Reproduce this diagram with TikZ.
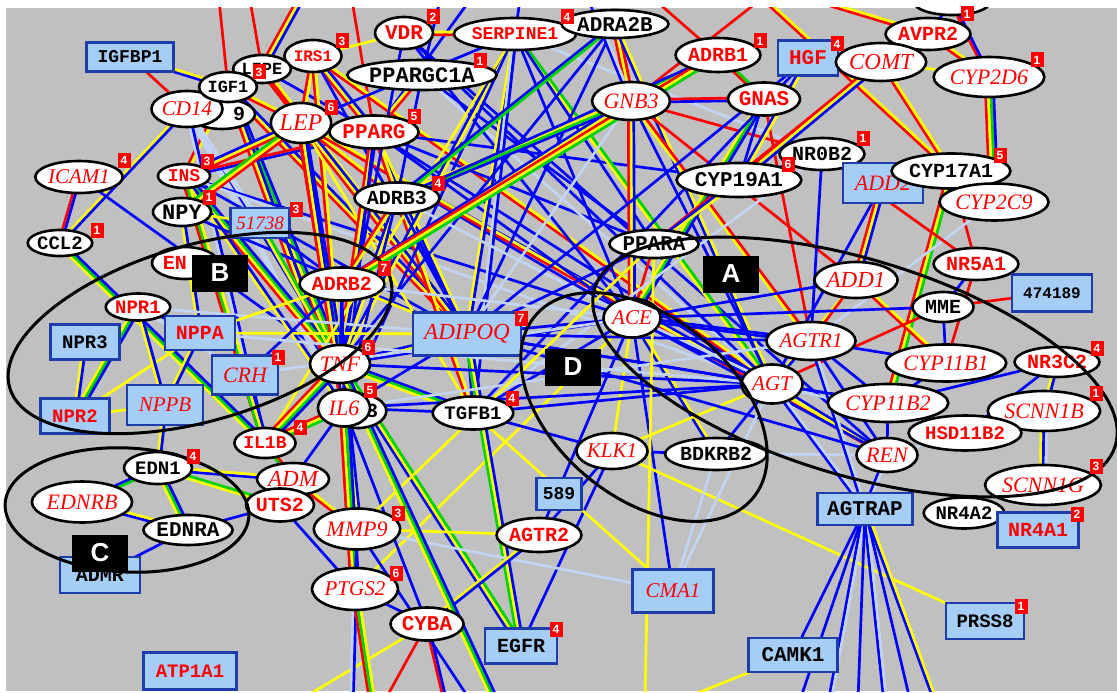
\documentclass[tikz,border=0pt]{standalone}
\usepackage{fontspec}
\usetikzlibrary{shapes.geometric,calc}
\newfontfamily\monof{Liberation Mono}
\newfontfamily\serf{Liberation Serif}
\newfontfamily\sansf{Liberation Sans}
\definecolor{canvas}{RGB}{192,192,192}
\definecolor{eR}{RGB}{255,0,0}
\definecolor{eY}{RGB}{255,255,0}
\definecolor{eG}{RGB}{0,210,0}
\definecolor{eB}{RGB}{0,0,255}
\definecolor{eL}{RGB}{195,212,242}
\definecolor{boxfill}{RGB}{165,205,245}
\definecolor{boxedge}{RGB}{30,60,170}
\definecolor{lblred}{RGB}{255,0,0}
\pgfdeclarelayer{back}
\pgfdeclarelayer{wires}
\pgfsetlayers{back,wires,main}

% parallel coloured strands between two nodes
\newcommand\stripe{2.7}
\newcommand\bund[3]{%
  \gdef\bn{0}%
  \foreach \cc in {#3}{\xdef\bn{\the\numexpr\bn+1\relax}}%
  \foreach \cc [count=\k] in {#3}{%
    \pgfmathsetmacro\off{(\k-(\bn+1)/2)*\stripe}%
    \draw[\cc] ($(#1.center)!\off pt!90:(#2.center)$) -- ($(#2.center)!\off pt!-90:(#1.center)$);
  }%
}
\newcommand\ovn[7]{\node[ov,minimum width=#4pt,minimum height=#5pt,#6] (#1) at (#2,#3) {#7};}
\newcommand\bxn[7]{\node[bx,minimum width=#4pt,minimum height=#5pt,#6] (#1) at (#2,#3) {#7};}
\newcommand\bdg[4]{\node[badge] (#1) at (#2,#3) {#4};}

\tikzset{
  ov/.style={ellipse, draw=black, line width=2.6pt, fill=white, inner sep=0pt},
  bx/.style={rectangle, draw=boxedge, line width=2.4pt, fill=boxfill, inner sep=0pt},
  rm/.style={font=\monof\bfseries\fontsize{#1}{#1}\selectfont},
  rm/.default=20,
  it/.style={font=\serf\itshape\fontsize{#1}{#1}\selectfont},
  it/.default=22,
  rd/.style={text=lblred},
  badge/.style={fill=eR, text=white, font=\sansf\bfseries\fontsize{12}{12}\selectfont,
    minimum width=13pt, minimum height=15pt, inner sep=0pt},
  tag/.style={fill=black, text=white, font=\sansf\bfseries\fontsize{26}{26}\selectfont,
    minimum width=56pt, minimum height=37pt, inner sep=0pt},
  ring/.style={draw=black, line width=3pt},
}

\begin{document}
\begin{tikzpicture}[x=1pt,y=-1pt]
\useasboundingbox (0,0) rectangle (1117,693);
\begin{pgfonlayer}{back}
  \fill[white] (0,0) rectangle (1117,693);
  \fill[canvas] (6,8) rectangle (1117,691);
\end{pgfonlayer}

% node cut by the upper border
\begin{scope}
  \clip (6,8) rectangle (1117,691);
  \ovn{TOPX}{952}{2}{76}{26}{rm=20}{}
\end{scope}

% ---- genes ----
\ovn{VDR}{404}{33}{58}{32}{rm=21,rd}{VDR}
\ovn{SERPINE1}{515}{34}{106}{32}{rm=18,rd}{SERPINE1}
\ovn{ADRA2B}{615}{24}{92}{28}{rm=21}{ADRA2B}
\ovn{AVPR2}{928}{34}{80}{32}{rm=20,rd}{AVPR2}
\ovn{IRS1}{313}{56}{57}{32}{rm=16,rd}{IRS1}
\ovn{PPARGC1A}{422}{75}{119}{30}{rm=22}{PPARGC1A}
\bxn{IGFBP1}{130}{57}{87}{29}{rm=18}{IGFBP1}
\ovn{X9}{222}{114}{66}{30}{rm=20}{\hspace*{34pt}9}
\ovn{CD14}{187}{109}{71}{36}{it=21,rd}{CD14}
\ovn{LIPE}{262}{69}{56}{28}{rm=17}{LIPE}
\ovn{IGF1}{228}{87}{57}{30}{rm=17}{IGF1}
\ovn{ADRB1}{718}{55}{82}{34}{rm=20,rd}{ADRB1}
\bxn{HGF}{808}{58}{60}{35}{rm=21,rd}{HGF}
\ovn{COMT}{881}{62}{82}{38}{it=23,rd}{COMT}
\ovn{CYP2D6}{989}{77}{100}{40}{it=22,rd}{CYP2D6}
\ovn{LEP}{301}{123}{58}{40}{it=24,rd}{LEP}
\ovn{PPARG}{374}{132}{82}{33}{rm=21,rd}{PPARG}
\ovn{GNB3}{631}{101}{77}{38}{it=22,rd}{GNB3}
\ovn{GNAS}{764}{99}{72}{33}{rm=21,rd}{GNAS}
\ovn{NR0B2}{822}{154}{72}{32}{rm=20}{NR0B2}
\ovn{CYP19A1}{739}{180}{102}{34}{rm=21}{CYP19A1}
\bxn{ADD2}{883}{183}{80}{40}{it=22,rd}{ADD2}
\ovn{CYP17A1}{951}{171}{102}{35}{rm=20}{CYP17A1}
\ovn{CYP2C9}{994}{202}{98}{37}{it=22,rd}{CYP2C9}
\ovn{ICAM1}{79}{177}{86}{32}{it=21,rd}{ICAM1}
\ovn{INS}{184}{176}{52}{24}{rm=18,rd}{INS}
\ovn{NPY}{182}{212}{58}{28}{rm=22}{NPY}
\bxn{n51738}{260}{223}{59}{30}{it=19,rd}{51738}
\ovn{ADRB3}{397}{198}{81}{31}{rm=20}{ADRB3}
\ovn{CCL2}{60}{243}{64}{26}{rm=19}{CCL2}
\ovn{EN}{185}{263}{66}{32}{rm=20,rd}{EN\hspace*{20pt}}
\ovn{PPARA}{654}{244}{78}{28}{rm=21}{PPARA}
\ovn{ADD1}{856}{280}{76}{36}{it=23,rd}{ADD1}
\ovn{NR5A1}{976}{264}{78}{32}{rm=20,rd}{NR5A1}
\ovn{MME}{943}{307}{61}{30}{rm=20}{MME}
\bxn{n474189}{1052}{293}{80}{37}{rm=16}{474189}
\ovn{NPR1}{138}{307}{64}{27}{rm=19,rd}{NPR1}
\ovn{ADRB2}{342}{284}{81}{33}{rm=20,rd}{ADRB2}
\bxn{NPPA}{200}{333}{70}{34}{rm=20,rd}{NPPA}
\bxn{NPR3}{85}{342}{69}{35}{rm=19}{NPR3}
\bxn{ADIPOQ}{467}{334}{108}{43}{it=23,rd}{ADIPOQ}
\ovn{ACE}{632}{318}{57}{39}{it=21,rd}{ACE}
\ovn{AGTR1}{811}{341}{86}{38}{it=21,rd}{AGTR1}
\ovn{CYP11B1}{946}{363}{107}{37}{it=22,rd}{CYP11B1}
\ovn{NR3C2}{1057}{362}{80}{30}{rm=20,rd}{NR3C2}
\ovn{TNF}{340}{364}{60}{38}{it=22,rd}{TNF}
\bxn{CRH}{245}{375}{66}{39}{it=22,rd}{CRH}
\ovn{AGT}{772}{384}{61}{39}{it=21,rd}{AGT}
\ovn{CYP11B2}{888}{403}{107}{38}{it=22,rd}{CYP11B2}
\ovn{SCNN1B}{1044}{411}{102}{40}{it=22,rd}{SCNN1B}
\bxn{NPPB}{165}{405}{76}{40}{it=21,rd}{NPPB}
\bxn{NPR2}{75}{416}{69}{35}{rm=19,rd}{NPR2}
\ovn{X3}{358}{411}{54}{34}{rm=20}{\hspace*{28pt}3}
\ovn{IL6}{344}{408}{52}{37}{it=22,rd}{IL6}
\ovn{TGFB1}{473}{413}{80}{33}{rm=19}{TGFB1}
\ovn{HSD11B2}{965}{433}{100}{35}{rm=19,rd}{HSD11B2}
\ovn{IL1B}{265}{443}{55}{30}{rm=18,rd}{IL1B}
\ovn{KLK1}{612}{451}{71}{36}{it=21,rd}{KLK1}
\ovn{BDKRB2}{716}{454}{92}{32}{rm=20}{BDKRB2}
\ovn{REN}{887}{455}{61}{34}{it=22,rd}{REN}
\ovn{EDN1}{158}{468}{68}{32}{rm=19}{EDN1}
\ovn{ADM}{293}{479}{72}{32}{it=23,rd}{ADM}
\ovn{UTS2}{280}{505}{66}{33}{rm=20,rd}{UTS2}
\ovn{SCNN1G}{1043}{485}{107}{40}{it=22,rd}{SCNN1G}
\bxn{n589}{559}{494}{45}{32}{rm=18}{589}
\ovn{EDNRB}{82}{502}{92}{41}{it=22,rd}{EDNRB}
\ovn{EDNRA}{188}{530}{85}{30}{rm=21}{EDNRA}
\bxn{AGTRAP}{865}{509}{95}{32}{rm=21}{AGTRAP}
\ovn{NR4A2}{964}{513}{77}{31}{rm=19}{NR4A2}
\bxn{NR4A1}{1038}{530}{81}{35}{rm=20,rd}{NR4A1}
\ovn{MMP9}{357}{529}{85}{41}{it=22,rd}{MMP9}
\ovn{AGTR2}{539}{535}{82}{34}{rm=20,rd}{AGTR2}
\bxn{ADMR}{100}{575}{80}{36}{rm=20}{ADMR}
\ovn{PTGS2}{355}{589}{86}{42}{it=21,rd}{PTGS2}
\bxn{CMA1}{673}{591}{81}{43}{it=21,rd}{CMA1}
\bxn{PRSS8}{985}{621}{78}{36}{rm=19}{PRSS8}
\ovn{CYBA}{427}{624}{73}{33}{rm=21,rd}{CYBA}
\bxn{EGFR}{521}{646}{72}{35}{rm=20}{EGFR}
\bxn{CAMK1}{793}{655}{89}{34}{rm=21}{CAMK1}
\bxn{ATP1A1}{190}{671}{93}{37}{rm=19,rd}{ATP1A1}

% free ends of links leaving the canvas
\coordinate (t1) at (219,0);  \coordinate (t2) at (300,0);
\coordinate (t3) at (352,0);  \coordinate (t4) at (440,0);
\coordinate (t5) at (590,0);  \coordinate (t6) at (760,0);
\coordinate (t7) at (765,0);  \coordinate (t8) at (815,0);
\coordinate (t9) at (520,0);  \coordinate (t10) at (655,0);
\coordinate (t11) at (250,0); \coordinate (t12) at (470,0);
\coordinate (b1) at (300,700); \coordinate (b2) at (352,700);
\coordinate (b3) at (372,700); \coordinate (b4) at (385,700);
\coordinate (b5) at (445,700); \coordinate (b6) at (495,700);
\coordinate (b7) at (645,700); \coordinate (b8) at (680,700);
\coordinate (b9) at (800,700); \coordinate (b10) at (830,700);
\coordinate (b11) at (858,700); \coordinate (b12) at (885,700);
\coordinate (b13) at (910,700); \coordinate (b14) at (935,700);
\coordinate (b15) at (470,700);

% ---- links ----
\begin{pgfonlayer}{wires}
\begin{scope}[line width=2.7pt]
\clip (6,8) rectangle (1117,691);
% upper left
\bund{IGFBP1}{IGF1}{eB,eY}
\bund{IGFBP1}{CD14}{eR}
\bund{t1}{IGF1}{eR}
\bund{t2}{LIPE}{eR,eY,eB}
\bund{t11}{LIPE}{eR}
\bund{t3}{PPARG}{eR}
\bund{t4}{PPARGC1A}{eB}
\bund{t12}{PPARG}{eB}
\bund{CD14}{CCL2}{eY,eB}
\bund{ICAM1}{CCL2}{eR,eB}
\bund{ICAM1}{TNF}{eB}
\bund{CCL2}{IL1B}{eY,eG,eB}
\bund{IGF1}{LEP}{eR,eY}
\bund{IGF1}{IRS1}{eB,eR}
\bund{IGF1}{TNF}{eR,eY,eG,eB}
\bund{IGF1}{IL6}{eR,eY,eB}
\bund{IGF1}{INS}{eR,eY}
\bund{IGF1}{ADIPOQ}{eR,eY,eB}
\bund{LIPE}{IRS1}{eR,eB}
\bund{LIPE}{PPARG}{eB}
\bund{LIPE}{ADIPOQ}{eR,eR,eY}
\bund{CD14}{TNF}{eB}
\bund{CD14}{IL6}{eL,eL}
\bund{CD14}{IL1B}{eL,eB}
\bund{CD14}{n51738}{eL,eL}
\bund{INS}{LEP}{eR,eY,eB}
\bund{INS}{TNF}{eR,eY,eG,eB}
\bund{INS}{ADIPOQ}{eB}
\bund{INS}{IL6}{eY,eB}
\bund{INS}{PPARG}{eB,eR}
\bund{INS}{ACE}{eB}
\bund{INS}{AGT}{eL}
\bund{INS}{IL1B}{eR,eG,eY}
\bund{NPY}{LEP}{eR,eY,eG}
\bund{NPY}{n51738}{eY}
\bund{NPY}{ADIPOQ}{eB}
\bund{NPY}{NPPA}{eY,eB}
\bund{n51738}{ADRB2}{eB}
\bund{n51738}{TNF}{eY,eG}
% upper middle
\bund{IRS1}{VDR}{eY}
\bund{IRS1}{LEP}{eR,eY}
\bund{IRS1}{PPARG}{eR,eY,eB}
\bund{IRS1}{ADIPOQ}{eB}
\bund{IRS1}{TNF}{eR,eY}
\bund{IRS1}{AGT}{eR,eY}
\bund{LEP}{PPARG}{eB}
\bund{LEP}{ADIPOQ}{eR,eY,eB}
\bund{LEP}{TNF}{eR,eY,eG,eB}
\bund{LEP}{IL6}{eR,eY,eB}
\bund{LEP}{ADRB3}{eR,eY}
\bund{LEP}{SERPINE1}{eB}
\bund{LEP}{ACE}{eB}
\bund{LEP}{AGT}{eB}
\bund{LEP}{TGFB1}{eY}
\bund{LEP}{REN}{eR,eY}
\bund{PPARG}{PPARGC1A}{eR,eY}
\bund{PPARG}{ADIPOQ}{eB,eY}
\bund{PPARG}{TNF}{eR,eY,eB}
\bund{PPARG}{IL6}{eB}
\bund{PPARG}{ACE}{eB}
\bund{PPARG}{AGT}{eB}
\bund{PPARG}{PPARA}{eB}
\bund{PPARG}{CYP19A1}{eB}
\bund{PPARG}{TGFB1}{eR,eY}
\bund{PPARGC1A}{PPARA}{eB}
\bund{PPARGC1A}{ADRB3}{eB}
\bund{PPARGC1A}{AGT}{eL}
\bund{VDR}{SERPINE1}{eR,eY}
\bund{VDR}{ACE}{eB}
\bund{VDR}{AGT}{eB}
\bund{VDR}{REN}{eB}
\bund{VDR}{TNF}{eB}
\bund{SERPINE1}{ADIPOQ}{eY,eB}
\bund{SERPINE1}{TNF}{eB,eY}
\bund{SERPINE1}{TGFB1}{eL,eB}
\bund{SERPINE1}{ACE}{eB}
\bund{SERPINE1}{AGT}{eY,eG}
\bund{SERPINE1}{IL6}{eB}
\bund{SERPINE1}{PPARA}{eB}
\bund{SERPINE1}{IL1B}{eY}
\bund{SERPINE1}{NR0B2}{eL}
\bund{t9}{SERPINE1}{eB}
\bund{ADRA2B}{GNB3}{eR,eY,eR}
\bund{ADRA2B}{ADRB3}{eB,eG}
\bund{ADRA2B}{ADIPOQ}{eB}
\bund{ADRA2B}{TNF}{eB}
\bund{ADRA2B}{AGT}{eB,eY}
\bund{t5}{GNB3}{eB,eL}
\bund{t10}{ADRB1}{eR}
\bund{ADRB3}{ADIPOQ}{eB}
\bund{ADRB3}{TNF}{eB,eY}
\bund{ADRB3}{ADRB2}{eR,eY}
\bund{ADRB3}{GNB3}{eB,eG,eY}
\bund{ADRB3}{IL6}{eB}
\bund{ADRB3}{ACE}{eL}
% upper right
\bund{GNB3}{ACE}{eR,eY,eB}
\bund{GNB3}{ADRB1}{eR,eY,eG}
\bund{GNB3}{GNAS}{eB,eR}
\bund{GNB3}{NR0B2}{eR}
\bund{GNB3}{ADRB2}{eB,eY,eG}
\bund{GNB3}{AGT}{eB}
\bund{GNB3}{ADD1}{eR}
\bund{GNB3}{AGTR1}{eY,eR}
\bund{GNB3}{ADIPOQ}{eL}
\bund{t6}{GNB3}{eR}
\bund{ADRB1}{GNAS}{eR,eG}
\bund{ADRB1}{ADRB3}{eB}
\bund{ADRB1}{ADRB2}{eR,eY,eG}
\bund{GNAS}{ACE}{eY,eG,eB}
\bund{GNAS}{CYP19A1}{eB}
\bund{GNAS}{AGTR1}{eR}
\bund{HGF}{ADIPOQ}{eB}
\bund{HGF}{TGFB1}{eB}
\bund{HGF}{CYP19A1}{eB,eY}
\bund{t7}{CYP17A1}{eR,eY}
\bund{t8}{AVPR2}{eR,eY}
\bund{TOPX}{CYP2D6}{eR,eB}
\bund{TOPX}{AVPR2}{eB}
\bund{COMT}{PPARA}{eR,eY}
\bund{COMT}{CYP17A1}{eR,eY}
\bund{COMT}{CYP2D6}{eY}
\bund{COMT}{CYP19A1}{eR,eY,eB}
\bund{AVPR2}{CYP2D6}{eR,eY}
\bund{AVPR2}{COMT}{eR}
\bund{CYP2D6}{CYP2C9}{eR,eY,eG,eB}
\bund{CYP17A1}{CYP2C9}{eR,eY,eG}
\bund{CYP17A1}{CYP11B2}{eR,eY,eG}
\bund{CYP17A1}{NR5A1}{eR}
\bund{CYP2C9}{AGTR1}{eL}
\bund{CYP19A1}{NR0B2}{eB}
\bund{CYP19A1}{PPARA}{eB,eY}
\bund{NR0B2}{NR5A1}{eR}
\bund{NR0B2}{AGTR1}{eB}
\bund{ADD2}{ADD1}{eR,eY,eB}
\bund{ADD2}{AGT}{eB}
% renin-angiotensin group
\bund{ADD1}{AGT}{eY}
\bund{ADD1}{ACE}{eB}
\bund{ADD1}{AGTR1}{eR}
\bund{ADD1}{CYP11B1}{eR,eY}
\bund{NR5A1}{CYP11B1}{eR}
\bund{NR5A1}{MME}{eB}
\bund{MME}{n474189}{eR}
\bund{MME}{AGT}{eR}
\bund{MME}{ACE}{eB}
\bund{MME}{CYP11B1}{eB}
\bund{CYP11B1}{CYP11B2}{eB}
\bund{CYP11B1}{AGTR1}{eB}
\bund{NR3C2}{CYP11B2}{eB}
\bund{NR3C2}{SCNN1B}{eY,eB}
\bund{NR3C2}{HSD11B2}{eB}
\bund{SCNN1B}{SCNN1G}{eY,eB,eL}
\bund{HSD11B2}{CYP11B2}{eB}
\bund{HSD11B2}{AGT}{eL}
\bund{REN}{AGT}{eB,eY}
\bund{REN}{ACE}{eB}
\bund{REN}{AGTR1}{eB}
\bund{REN}{AGTRAP}{eB,eL}
\bund{REN}{CYP11B2}{eB}
\bund{REN}{HSD11B2}{eL}
\bund{REN}{BDKRB2}{eL}
\bund{AGT}{AGTR1}{eB}
\bund{AGT}{CYP11B2}{eB}
\bund{AGT}{AGTRAP}{eB,eL}
\bund{AGTR1}{AGTRAP}{eB,eL}
\bund{AGTR1}{CYP11B2}{eB}
\bund{ACE}{AGTR1}{eB,eB}
\bund{ACE}{AGT}{eB,eL}
\bund{ACE}{KLK1}{eY}
\bund{ACE}{BDKRB2}{eB,eY}
\bund{ACE}{CMA1}{eB}
\bund{ACE}{AGTR2}{eB}
\bund{ACE}{PPARA}{eR}
\bund{ACE}{PTGS2}{eY}
\bund{KLK1}{BDKRB2}{eB}
\bund{KLK1}{PRSS8}{eY}
\bund{KLK1}{AGT}{eY}
\bund{KLK1}{EGFR}{eB}
\bund{BDKRB2}{AGT}{eB}
\bund{BDKRB2}{CMA1}{eL}
\bund{AGTRAP}{CAMK1}{eB}
% centre
\bund{TGFB1}{AGT}{eB}
\bund{TGFB1}{TNF}{eB,eG,eY}
\bund{TGFB1}{IL6}{eB}
\bund{TGFB1}{ADIPOQ}{eB}
\bund{TGFB1}{CMA1}{eY}
\bund{TGFB1}{KLK1}{eB}
\bund{TGFB1}{NR0B2}{eL}
\bund{TGFB1}{ACE}{eB}
\bund{ADIPOQ}{ACE}{eB}
\bund{ADIPOQ}{AGT}{eB}
\bund{ADIPOQ}{AGTR1}{eB}
\bund{ADIPOQ}{TNF}{eB,eY}
\bund{ADIPOQ}{IL6}{eB}
\bund{ADIPOQ}{PPARA}{eB}
\bund{ADIPOQ}{REN}{eB}
\bund{ADIPOQ}{CYP11B2}{eB}
\bund{ADIPOQ}{EGFR}{eG,eY,eB}
\bund{ADIPOQ}{ADRB2}{eY}
\bund{ADIPOQ}{NPR1}{eL}
\bund{NPPA}{ADIPOQ}{eY}
\bund{TNF}{IL6}{eR,eY,eG,eB}
\bund{TNF}{ACE}{eB}
\bund{TNF}{AGT}{eB}
\bund{TNF}{EGFR}{eB,eY,eG}
\bund{TNF}{MMP9}{eR,eY,eG,eB}
\bund{TNF}{PTGS2}{eB,eY}
\bund{TNF}{ADRB2}{eB}
\bund{TNF}{IL1B}{eR,eY,eG,eB}
\bund{IL6}{IL1B}{eR,eY,eG}
\bund{IL6}{AGT}{eB}
\bund{IL6}{MMP9}{eB,eY}
\bund{IL6}{PTGS2}{eR,eY,eG,eB}
\bund{IL6}{CYBA}{eB}
\bund{IL6}{ADM}{eB}
\bund{IL6}{AGTR1}{eL}
\bund{ADRB2}{CRH}{eB}
\bund{ADRB2}{IL6}{eB}
\bund{ADRB2}{ACE}{eL}
\bund{ADRB2}{NPPA}{eY}
\bund{CRH}{IL1B}{eG,eY,eB}
\bund{CRH}{ACE}{eL}
\bund{NPPA}{AGT}{eL}
% natriuretic group
\bund{NPPA}{NPR1}{eB}
\bund{NPPA}{NPR2}{eY}
\bund{NPPA}{NPPB}{eY,eB}
\bund{NPR1}{NPR2}{eY,eG,eB}
\bund{NPR1}{NPPB}{eY,eB}
\bund{NPR3}{NPR2}{eY,eB}
\bund{NPPB}{NPR2}{eY}
\bund{NPPB}{EDN1}{eY,eB}
\bund{NPR1}{CRH}{eL}
% endothelin group
\bund{EDN1}{EDNRB}{eB,eG}
\bund{EDN1}{EDNRA}{eY,eG,eB}
\bund{EDN1}{ADM}{eB,eY}
\bund{EDN1}{UTS2}{eY,eG}
\bund{EDNRB}{EDNRA}{eB,eY}
\bund{EDNRA}{ADMR}{eB}
\bund{EDNRA}{UTS2}{eB}
% lower part
\bund{ADM}{MMP9}{eR,eY}
\bund{ADM}{IL1B}{eR,eG}
\bund{UTS2}{PTGS2}{eB}
\bund{MMP9}{AGTR2}{eY}
\bund{MMP9}{CMA1}{eL}
\bund{MMP9}{PTGS2}{eB}
\bund{PTGS2}{CYBA}{eB}
\bund{AGTR2}{CYBA}{eY,eB}
\bund{AGTR2}{KLK1}{eB}
\bund{CMA1}{AGT}{eL}
\bund{PPARA}{MMP9}{eY}
\bund{CYBA}{b1}{eY}
\bund{PTGS2}{b2}{eL,eB}
\bund{PTGS2}{b3}{eR,eG,eY}
\bund{CYBA}{b4}{eR}
\bund{CYBA}{b5}{eR,eB}
\bund{TNF}{b6}{eY,eG,eB}
\bund{MMP9}{b15}{eB}
\bund{PPARA}{b7}{eY}
\bund{CAMK1}{b8}{eY}
\bund{AGTRAP}{b9}{eB}
\bund{AGTRAP}{b10}{eB,eL}
\bund{AGTRAP}{b11}{eB}
\bund{AGTRAP}{b12}{eB,eL}
\bund{AGTRAP}{b13}{eB}
\bund{AGTRAP}{b14}{eB,eY}
\end{scope}
\end{pgfonlayer}

% ---- outlined groups ----
\draw[ring, rotate around={-16.8:(855,367)}] (855,367) ellipse (272pt and 108pt);
\draw[ring, rotate around={16:(200,333)}] (200,333) ellipse (198pt and 88pt);
\draw[ring, rotate around={-3:(127,510)}] (127,510) ellipse (122pt and 62pt);
\draw[ring, rotate around={-40:(644,407)}] (644,407) ellipse (142pt and 90pt);

% ---- count badges ----
\bdg{k1}{342}{41}{3}
\bdg{k2}{433}{17}{2}
\bdg{k3}{567}{17}{4}
\bdg{k4}{480}{61}{1}
\bdg{k5}{259}{72}{3}
\bdg{k6}{331}{107}{6}
\bdg{k7}{414}{116}{5}
\bdg{k8}{438}{183}{4}
\bdg{k9}{207}{161}{3}
\bdg{k10}{209}{197}{1}
\bdg{k11}{124}{160}{4}
\bdg{k12}{97}{230}{1}
\bdg{k13}{296}{209}{3}
\bdg{k14}{760}{41}{1}
\bdg{k15}{837}{44}{4}
\bdg{k16}{863}{138}{1}
\bdg{k17}{788}{164}{6}
\bdg{k18}{967}{14}{1}
\bdg{k19}{1037}{60}{1}
\bdg{k20}{1000}{155}{5}
\bdg{k21}{384}{268}{7}
\bdg{k22}{521}{318}{7}
\bdg{k23}{368}{347}{6}
\bdg{k24}{370}{390}{5}
\bdg{k25}{300}{427}{4}
\bdg{k26}{512}{398}{4}
\bdg{k27}{278}{357}{1}
\bdg{k28}{1097}{348}{4}
\bdg{k29}{1096}{393}{1}
\bdg{k30}{1096}{466}{3}
\bdg{k31}{1077}{514}{2}
\bdg{k32}{1021}{606}{1}
\bdg{k33}{556}{629}{4}
\bdg{k34}{398}{513}{3}
\bdg{k35}{396}{573}{6}
\bdg{k36}{193}{456}{4}

% ---- group tags ----
\node[tag] (tagA) at (731,274) {A};
\node[tag] (tagB) at (220,273) {B};
\node[tag] (tagC) at (100,553) {C};
\node[tag] (tagD) at (573,367) {D};
\end{tikzpicture}
\end{document}
